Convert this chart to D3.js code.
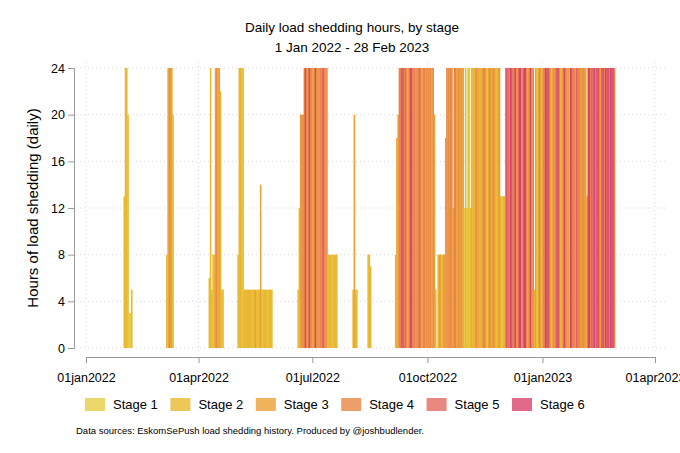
<!DOCTYPE html>
<html><head><meta charset="utf-8">
<script src="https://cdn.jsdelivr.net/npm/d3@7"></script>
<style>body{margin:0;background:#fff;font-family:"Liberation Sans",Arial,sans-serif}</style>
</head><body><svg></svg>
<script>
// episodes: start date + tokens "hours:stage" for consecutive days
var episodeStarts = ["2022-01-31","2022-03-06","2022-04-09","2022-05-02","2022-05-07","2022-06-19","2022-08-02","2022-08-14",
  "2022-09-05","2022-10-09","2022-10-30","2022-12-02","2022-12-26","2023-02-06"];
var episodeDays = [
  "13:2 24:2 24:2 20:2 3:1 3:1 5:2",
  "8:2 24:2 24:4 24:3 24:3 20:2",
  "6:2 24:2 5:2 8:2 8:2 24:3 24:4 24:3 24:3 22:2 5:2 5:2",
  "8:2 24:2 24:2 24:2 24:2",
  "5:2 5:2 5:2 5:3 5:2 5:2 5:2 5:2 5:2 5:3 5:2 5:2 5:2 14:3 5:2 5:2 5:2 5:2 5:2 5:2 5:2 5:2 5:2",
  "5:2 12:2 20:3 20:4 20:4 24:4 24:6 24:4 24:4 24:6 24:4 24:4 24:3 24:4 24:6 24:4 24:4 24:3 24:4 24:4 24:6 24:4 24:3 24:4 8:2 8:2 8:2 8:2 8:2 8:2 8:2 8:2",
  "5:2 20:3 5:2 5:2",
  "8:2 8:2 7:2",
  "8:2 18:3 20:3 24:4 24:4 24:6 24:6 24:4 24:5 24:4 24:3 24:4 24:6 24:6 24:4 24:4 24:3 24:4 24:4 24:5 24:4 24:3 24:4 24:4 24:3 24:4 24:4 24:3 24:4 24:3 24:4 20:3 5:2",
  "8:2 8:3 8:3 8:2 8:3 8:3 18:3 24:4 24:4 24:3 24:4 24:4 12:3 24:4 24:4 24:3 24:4 24:3 24:3 24:4 24:3",
  "12:1 24:2 12:2 24:2 24:1 12:2 24:3 24:2 24:2 24:3 24:4 24:3 24:2 24:2 24:3 24:4 24:4 24:3 24:2 24:2 24:4 24:3 24:3 24:4 24:3 24:2 24:2 24:3 24:3 13:2 13:2 13:2 13:2",
  "24:4 24:6 24:5 24:4 24:6 24:6 24:4 24:5 24:6 24:4 24:4 24:6 24:6 24:4 24:5 24:6 24:6 24:4 24:3 24:4 24:6 24:4 24:4 5:2",
  "24:3 24:2 24:2 24:4 24:3 24:2 24:4 24:4 24:6 24:6 24:6 24:4 24:3 24:2 24:4 24:3 24:4 24:6 24:6 24:4 24:2 24:3 24:4 24:6 24:4 24:4 24:3 24:2 24:6 24:6 24:4 24:4 24:3 24:6 24:4 24:4 24:3 24:4 24:4 24:3 24:3 13:3",
  "24:6 24:6 24:4 24:6 24:5 24:6 24:4 24:6 24:6 24:4 24:3 24:6 24:6 24:4 24:6 24:6 24:6 24:4 24:6 24:6 24:6 24:4"
];
var stageNames = ["Stage 1","Stage 2","Stage 3","Stage 4","Stage 5","Stage 6"];
var stageColors = ["#e6cd45","#e8b92e","#eba032","#ea8645","#e26a5e","#d8436c"];
var yTicks = [0,4,8,12,16,20,24];
var xTickDates = ["2022-01-01","2022-04-01","2022-07-01","2022-10-01","2023-01-01","2023-04-01"];
var xTickLabels = ["01jan2022","01apr2022","01jul2022","01oct2022","01jan2023","01apr2023"];

var parse = d3.utcParse("%Y-%m-%d");
var days = [];
episodeStarts.forEach(function(s, i){
  var d0 = parse(s);
  episodeDays[i].split(" ").forEach(function(tok, k){
    var p = tok.split(":");
    days.push({date: d3.utcDay.offset(d0, k), hours: +p[0], stage: +p[1]});
  });
});

var svg = d3.select("svg").attr("width", 680).attr("height", 453);
var x = d3.scaleUtc().domain([parse("2022-01-01"), parse("2023-04-01")]).range([86, 655]);
var y = d3.scaleLinear().domain([0, 24]).range([348, 68]);

// grid
svg.append("g").selectAll("line.h").data(yTicks).enter().append("line")
  .attr("x1", 76).attr("x2", 665).attr("y1", y).attr("y2", y)
  .attr("stroke", "#d8d8d8").attr("stroke-dasharray", "1,3");
svg.append("g").selectAll("line.v").data(xTickDates).enter().append("line")
  .attr("x1", function(d){ return x(parse(d)); }).attr("x2", function(d){ return x(parse(d)); })
  .attr("y1", 62).attr("y2", 352)
  .attr("stroke", "#d8d8d8").attr("stroke-dasharray", "1,3");

// bars
svg.append("g").selectAll("rect").data(days).enter().append("rect")
  .attr("x", function(d){ return x(d.date); })
  .attr("width", function(d){ return x(d3.utcDay.offset(d.date, 1)) - x(d.date) + 0.3; })
  .attr("y", function(d){ return y(d.hours); })
  .attr("height", function(d){ return y(0) - y(d.hours); })
  .attr("fill", function(d){ return stageColors[d.stage - 1]; });

// axes
var xAxis = svg.append("g").attr("transform", "translate(0,357)")
  .call(d3.axisBottom(x).tickValues(xTickDates.map(parse)).tickSize(6)
    .tickFormat(function(d, i){ return xTickLabels[i]; }));
var yAxis = svg.append("g").attr("transform", "translate(74,0)")
  .call(d3.axisLeft(y).tickValues(yTicks).tickSize(6));
[xAxis, yAxis].forEach(function(a){
  a.select(".domain").attr("stroke", "#999");
  a.selectAll(".tick line").attr("stroke", "#999");
  a.selectAll("text").attr("font-size", 12.5).attr("fill", "#000")
    .attr("font-family", "Liberation Sans, Arial, sans-serif");
});
xAxis.selectAll("text").attr("dy", "1.3em");

svg.append("text").attr("transform", "translate(38,208) rotate(-90)")
  .attr("text-anchor", "middle").attr("font-size", 15).text("Hours of load shedding (daily)");
svg.append("text").attr("x", 352).attr("y", 32).attr("text-anchor", "middle")
  .attr("font-size", 13.5).text("Daily load shedding hours, by stage");
svg.append("text").attr("x", 352).attr("y", 52).attr("text-anchor", "middle")
  .attr("font-size", 13.5).text("1 Jan 2022 - 28 Feb 2023");

// legend
var leg = svg.append("g").selectAll("g").data(stageNames).enter().append("g")
  .attr("transform", function(d, i){ return "translate(" + (85 + i * 85.4) + ",398)"; });
leg.append("rect").attr("width", 20).attr("height", 13)
  .attr("fill", function(d, i){ return stageColors[i]; }).attr("opacity", 0.8);
leg.append("text").attr("x", 28).attr("y", 11).attr("font-size", 13).text(function(d){ return d; });

svg.append("text").attr("x", 76).attr("y", 434).attr("font-size", 9.5)
  .text("Data sources: EskomSePush load shedding history. Produced by @joshbudlender.");
</script></body></html>
